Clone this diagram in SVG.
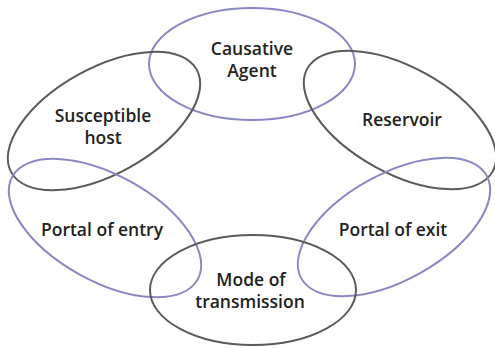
<svg xmlns="http://www.w3.org/2000/svg" width="495" height="348" viewBox="0 0 495 348">
<style>
.b{fill:none;stroke:#8a88c4;stroke-width:2}
.d{fill:none;stroke:#5a5a5a;stroke-width:2}
text{font-family:"Open Sans","DejaVu Sans",sans-serif;font-weight:600;font-size:17.5px;fill:#222;text-anchor:middle}
</style>
<rect width="495" height="348" fill="#fff"/>
<g id="causative-agent">
<ellipse class="b" cx="252" cy="64" rx="103" ry="56"/>
<text x="252" y="55">Causative</text>
<text x="252" y="77">Agent</text>
</g>
<g id="susceptible-host">
<ellipse class="d" cx="104" cy="121" rx="106" ry="53" transform="rotate(-29 104 121)"/>
<text x="103" y="122">Susceptible</text>
<text x="103" y="144">host</text>
</g>
<g id="reservoir">
<ellipse class="d" cx="400" cy="120" rx="106" ry="53" transform="rotate(29 400 120)"/>
<text x="402" y="126">Reservoir</text>
</g>
<g id="portal-of-entry">
<ellipse class="b" cx="105" cy="228" rx="106" ry="53" transform="rotate(29 105 228)"/>
<text x="102" y="236">Portal of entry</text>
</g>
<g id="portal-of-exit">
<ellipse class="b" cx="394" cy="227" rx="106" ry="53" transform="rotate(-29 394 227)"/>
<text x="393" y="236">Portal of exit</text>
</g>
<g id="mode-of-transmission">
<ellipse class="d" cx="253" cy="290" rx="103" ry="55"/>
<text x="251" y="286">Mode of</text>
<text x="250" y="308">transmission</text>
</g>
<g id="connectors"></g>
</svg>
